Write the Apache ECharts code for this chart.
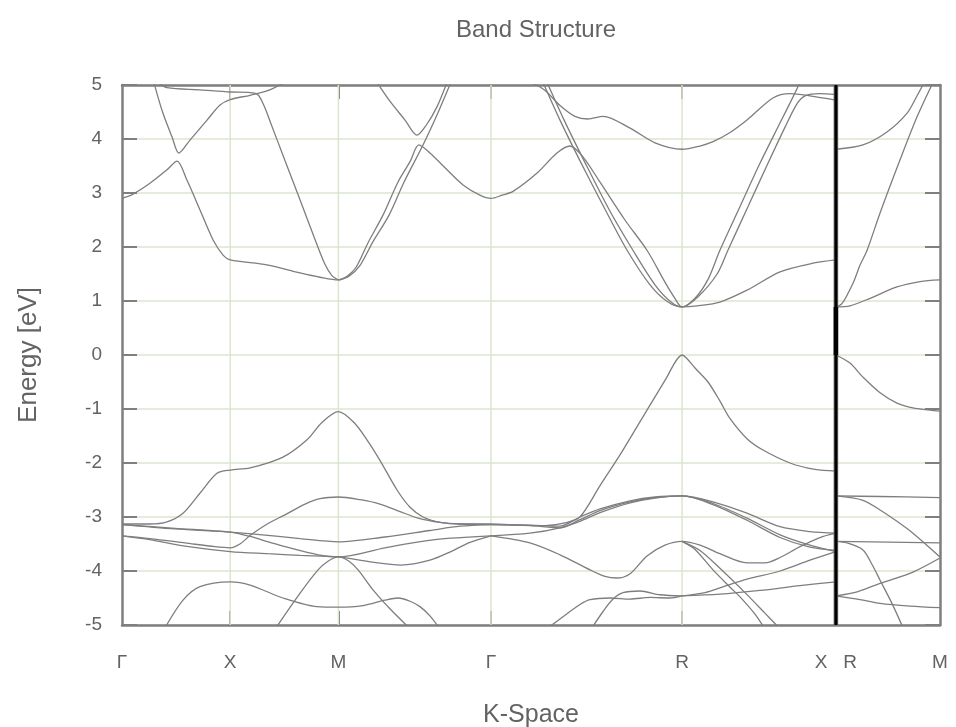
<!DOCTYPE html>
<html>
<head>
<meta charset="utf-8">
<script src="https://cdn.jsdelivr.net/npm/echarts@6.0.0/dist/echarts.min.js"></script>
<style>html,body{margin:0;padding:0;background:#fff}#c{width:956px;height:727px}</style>
</head>
<body>
<div id="c"></div>
<script>
// high-symmetry points along the k-path
const kPos = [0, 0.5, 1.0, 1.705, 2.588, 3.299, 3.78];
const kNames = ['Γ', 'X', 'M', 'Γ', 'R', 'X   R', 'M'];
const kInner = [0.5, 1.0, 1.705, 2.588];
const breakK = 3.299;
const gapEdges = [0.0, 0.89];
const eMin = -5, eMax = 5, eStep = 1;

// bands: [k, energy (eV)]
const b1 = [[0,2.90],[0.051,2.98],[0.129,3.18],[0.208,3.43],[0.254,3.59],[0.300,3.24],[0.360,2.69],[0.421,2.13],[0.467,1.85],[0.5,1.76],[0.670,1.67],[0.823,1.52],[0.915,1.44],[1.0,1.39],[1.040,1.46],[1.081,1.62],[1.137,2.08],[1.206,2.59],[1.275,3.20],[1.331,3.58],[1.372,3.89],[1.423,3.74],[1.502,3.43],[1.576,3.15],[1.654,2.96],[1.705,2.90],[1.756,2.96],[1.807,3.03],[1.918,3.37],[2.010,3.74],[2.070,3.87],[2.130,3.67],[2.209,3.20],[2.324,2.50],[2.426,1.94],[2.509,1.35],[2.555,1.05],[2.588,0.89],[2.657,0.91],[2.763,0.98],[2.888,1.20],[3.041,1.54],[3.193,1.70],[3.299,1.76]];
const b2 = [[1.0,1.39],[1.049,1.46],[1.100,1.66],[1.160,2.10],[1.234,2.59],[1.303,3.20],[1.391,3.89],[1.456,4.45],[1.520,5.05]];
const bV = [[1.178,5.05],[1.238,4.70],[1.308,4.35],[1.363,4.07],[1.405,4.25],[1.456,4.60],[1.502,5.05]];
const b3 = [[0.139,5.20],[0.152,4.98],[0.189,4.48],[0.231,4.04],[0.263,3.74],[0.314,3.98],[0.393,4.35],[0.453,4.63],[0.5,4.73],[0.592,4.81],[0.670,4.89],[0.739,5.02],[0.76,5.08]];
const b4 = [[0.166,5.05],[0.208,4.95],[0.360,4.91],[0.5,4.87],[0.592,4.86],[0.628,4.82],[0.656,4.62],[0.684,4.33],[0.753,3.60],[0.823,2.87],[0.892,2.14],[0.938,1.68],[0.970,1.47],[1.0,1.39]];
const b5 = [[1.890,5.05],[1.955,4.90],[2.024,4.62],[2.093,4.42],[2.153,4.37],[2.223,4.42],[2.348,4.20],[2.463,3.93],[2.588,3.81],[2.671,3.87],[2.731,3.95],[2.810,4.12],[2.888,4.35],[3.008,4.76],[3.087,4.84],[3.179,4.80],[3.299,4.72]];
const b6 = [[1.945,5.05],[2.024,4.35],[2.116,3.60],[2.232,2.70],[2.334,1.94],[2.440,1.30],[2.523,0.98],[2.588,0.89],[2.648,1.05],[2.708,1.40],[2.763,1.94],[2.856,2.75],[2.948,3.55],[3.041,4.30],[3.101,4.78],[3.133,5.05]];
const b7 = [[1.964,5.05],[2.043,4.35],[2.135,3.60],[2.250,2.70],[2.361,1.94],[2.463,1.30],[2.537,0.98],[2.588,0.89],[2.662,1.08],[2.750,1.50],[2.800,1.94],[2.893,2.75],[2.985,3.55],[3.064,4.22],[3.119,4.65],[3.156,4.80],[3.225,4.84],[3.299,4.82]];
const d1 = [[0,-3.13],[0.129,-3.13],[0.208,-3.09],[0.282,-2.93],[0.360,-2.56],[0.439,-2.19],[0.5,-2.13],[0.592,-2.09],[0.744,-1.89],[0.855,-1.57],[0.924,-1.25],[1.0,-1.05],[1.072,-1.25],[1.132,-1.57],[1.192,-1.95],[1.271,-2.50],[1.331,-2.82],[1.391,-3.00],[1.470,-3.10],[1.562,-3.13],[1.705,-3.13],[1.839,-3.15],[1.955,-3.16],[2.047,-3.11],[2.116,-3.00],[2.209,-2.42],[2.315,-1.76],[2.426,-1.02],[2.518,-0.41],[2.546,-0.20],[2.569,-0.06],[2.588,0.0],[2.607,-0.05],[2.648,-0.24],[2.708,-0.50],[2.764,-0.86],[2.810,-1.18],[2.888,-1.55],[2.962,-1.76],[3.087,-2.00],[3.202,-2.12],[3.299,-2.15]];
const f1 = [[0,-3.14],[0.245,-3.22],[0.5,-3.28],[0.624,-3.32],[0.823,-3.40],[1.0,-3.46],[1.215,-3.37],[1.423,-3.25],[1.562,-3.17],[1.705,-3.14]];
const f2 = [[0,-3.14],[0.245,-3.21],[0.5,-3.28],[0.592,-3.36],[0.684,-3.47],[0.753,-3.55],[0.906,-3.70],[1.0,-3.74],[1.215,-3.57],[1.446,-3.42],[1.705,-3.35]];
const g1 = [[0,-3.35],[0.129,-3.40],[0.291,-3.48],[0.430,-3.55],[0.5,-3.57],[0.545,-3.50],[0.596,-3.33],[0.675,-3.12],[0.753,-2.96],[0.846,-2.76],[0.915,-2.66],[1.0,-2.63],[1.100,-2.68],[1.192,-2.76],[1.285,-2.90],[1.368,-3.02],[1.470,-3.10],[1.562,-3.13],[1.705,-3.14]];
const g2 = [[0,-3.35],[0.129,-3.42],[0.291,-3.54],[0.5,-3.64],[0.675,-3.68],[0.823,-3.71],[1.0,-3.74],[1.146,-3.83],[1.289,-3.89],[1.423,-3.80],[1.520,-3.64],[1.608,-3.47],[1.705,-3.35]];
const e1 = [[0.712,-5.05],[0.823,-4.41],[0.906,-3.98],[0.952,-3.82],[1.0,-3.74],[1.049,-3.82],[1.091,-3.98],[1.160,-4.35],[1.238,-4.70],[1.326,-5.05]];
const e2 = [[0.199,-5.05],[0.282,-4.54],[0.360,-4.29],[0.5,-4.20],[0.592,-4.26],[0.744,-4.50],[0.901,-4.66],[1.0,-4.67],[1.114,-4.64],[1.215,-4.54],[1.275,-4.50],[1.331,-4.56],[1.377,-4.66],[1.423,-4.83],[1.465,-5.05]];
const h1 = [[1.705,-3.14],[1.885,-3.16],[2.024,-3.20],[2.116,-3.05],[2.209,-2.88],[2.348,-2.72],[2.463,-2.64],[2.588,-2.61],[2.731,-2.75],[2.888,-3.02],[3.041,-3.33],[3.179,-3.52],[3.299,-3.64]];
const h2 = [[1.705,-3.14],[1.885,-3.15],[2.024,-3.17],[2.116,-3.00],[2.209,-2.85],[2.348,-2.70],[2.463,-2.63],[2.588,-2.61],[2.731,-2.77],[2.888,-3.06],[3.041,-3.38],[3.179,-3.56],[3.299,-3.62]];
const h3 = [[1.705,-3.35],[1.885,-3.48],[2.024,-3.70],[2.163,-3.98],[2.232,-4.10],[2.287,-4.13],[2.348,-4.05],[2.426,-3.72],[2.509,-3.52],[2.588,-3.45],[2.671,-3.52],[2.763,-3.68],[2.888,-3.85],[2.971,-3.85],[3.041,-3.75],[3.133,-3.55],[3.225,-3.38],[3.299,-3.30]];
const h4 = [[1.705,-3.35],[1.885,-3.30],[2.024,-3.20],[2.116,-3.08],[2.209,-2.92],[2.348,-2.74],[2.463,-2.65],[2.588,-2.61],[2.731,-2.72],[2.888,-2.93],[3.041,-3.18],[3.179,-3.27],[3.299,-3.30]];
const k1 = [[2.588,-3.45],[2.648,-3.60],[2.731,-3.98],[2.810,-4.30],[2.856,-4.48],[2.925,-4.80],[2.967,-5.05]];
const k2 = [[2.588,-3.45],[2.671,-3.62],[2.763,-3.95],[2.879,-4.40],[2.971,-4.78],[3.036,-5.05]];
const m1 = [[1.969,-5.05],[2.047,-4.82],[2.116,-4.62],[2.163,-4.53],[2.255,-4.50],[2.348,-4.52],[2.440,-4.49],[2.532,-4.50],[2.588,-4.46]];
const m2 = [[2.172,-5.05],[2.223,-4.75],[2.269,-4.52],[2.315,-4.40],[2.394,-4.37],[2.486,-4.44],[2.588,-4.46]];
const n1 = [[2.588,-4.46],[2.763,-4.43],[2.948,-4.36],[3.133,-4.27],[3.299,-4.20]];
const n2 = [[2.588,-4.46],[2.694,-4.40],[2.786,-4.28],[2.888,-4.15],[3.041,-4.00],[3.179,-3.80],[3.299,-3.64]];
// R - M panel
const p1 = [[3.299,3.81],[3.424,3.89],[3.535,4.13],[3.628,4.48],[3.674,4.80],[3.710,5.07]];
const p2 = [[3.299,0.89],[3.327,0.95],[3.378,1.33],[3.410,1.66],[3.443,1.94],[3.503,2.63],[3.595,3.61],[3.674,4.41],[3.748,5.05]];
const p3 = [[3.299,0.89],[3.364,0.91],[3.457,1.05],[3.581,1.26],[3.688,1.36],[3.78,1.39]];
const p4 = [[3.299,0.0],[3.364,-0.15],[3.424,-0.41],[3.503,-0.70],[3.581,-0.89],[3.655,-0.98],[3.734,-1.02],[3.78,-1.04]];
const p5 = [[3.299,-2.61],[3.503,-2.62],[3.78,-2.64]];
const p6 = [[3.299,-2.61],[3.424,-2.69],[3.503,-2.87],[3.581,-3.08],[3.655,-3.30],[3.78,-3.74]];
const p7 = [[3.299,-3.45],[3.78,-3.48]];
const p8 = [[3.299,-3.45],[3.350,-3.48],[3.424,-3.61],[3.466,-3.88],[3.503,-4.17],[3.558,-4.60],[3.609,-5.05]];
const p9 = [[3.299,-4.46],[3.401,-4.38],[3.503,-4.23],[3.655,-4.02],[3.78,-3.76]];
const p10 = [[3.299,-4.46],[3.410,-4.53],[3.503,-4.60],[3.641,-4.65],[3.78,-4.68]];

const bands = [b1,b2,bV,b3,b4,b5,b6,b7,d1,f1,f2,g1,g2,e1,e2,h1,h2,h3,h4,k1,k2,m1,m2,n1,n2,p1,p2,p3,p4,p5,p6,p7,p8,p9,p10];

const axisGray = '#7f7f7f';
const textGray = '#636363';
const gridGreen = '#dbe6cf';
const font = 'Liberation Sans, Arial, sans-serif';

const series = [];
kInner.forEach(k => series.push({
  type: 'line', data: [[k, eMin], [k, eMax]], showSymbol: false, silent: true, z: 1,
  lineStyle: { color: gridGreen, width: 1.5 }
}));
bands.forEach(b => series.push({
  type: 'line', data: b, showSymbol: false, smooth: 0.3, silent: true, z: 3, clip: true,
  lineStyle: { color: '#7e7e7e', width: 1.3 }
}));
series.push({
  type: 'line', data: [[breakK, eMin], [breakK, eMax]], showSymbol: false, silent: true, z: 4,
  lineStyle: { color: '#555', width: 4.5 }
});
series.push({
  type: 'line', data: [[breakK, eMin], [breakK, eMax]], showSymbol: false, silent: true, z: 5,
  lineStyle: { color: '#000', width: 2.5 }
});
series.push({
  type: 'line', data: [[breakK, gapEdges[0]], [breakK, gapEdges[1]]], showSymbol: false, silent: true, z: 6,
  lineStyle: { color: '#000', width: 4.5 }
});

function nameFor(v) {
  let best = 0;
  kPos.forEach((k, i) => { if (Math.abs(k - v) < Math.abs(kPos[best] - v)) best = i; });
  return kNames[best];
}

const chart = echarts.init(document.getElementById('c'), null, { renderer: 'canvas' });
chart.setOption({
  animation: false,
  backgroundColor: '#fff',
  textStyle: { fontFamily: font },
  title: {
    text: 'Band Structure', left: 531, top: 13, textAlign: 'center',
    textStyle: { fontSize: 24, fontWeight: 'normal', color: textGray, fontFamily: font }
  },
  grid: { left: 122, right: 16, top: 85, bottom: 102, containLabel: false, outerBoundsMode: 'none' },
  xAxis: [{
    type: 'value', min: kPos[0], max: kPos[kPos.length - 1], position: 'bottom',
    name: 'K-Space', nameLocation: 'middle', nameGap: 78,
    nameTextStyle: { fontSize: 25, color: textGray, fontFamily: font },
    axisLine: { show: true, onZero: false, lineStyle: { color: axisGray, width: 2.5 } },
    axisTick: { show: true, inside: true, length: 14, customValues: kInner, lineStyle: { color: axisGray, width: 2 } },
    axisLabel: { show: true, customValues: kPos, formatter: v => nameFor(v), margin: 28, fontSize: 19, color: textGray, fontFamily: font },
    splitLine: { show: false }
  }, {
    type: 'value', min: kPos[0], max: kPos[kPos.length - 1], position: 'top',
    axisLine: { show: true, onZero: false, lineStyle: { color: axisGray, width: 2.5 } },
    axisTick: { show: true, inside: true, length: 14, customValues: kInner, lineStyle: { color: axisGray, width: 2 } },
    axisLabel: { show: false },
    splitLine: { show: false }
  }],
  yAxis: [{
    type: 'value', min: eMin, max: eMax, interval: eStep, position: 'left',
    name: 'Energy [eV]', nameLocation: 'middle', nameGap: 80, nameRotate: 90,
    nameTextStyle: { fontSize: 26, color: textGray, fontFamily: font },
    axisLine: { show: true, onZero: false, lineStyle: { color: axisGray, width: 2.5 } },
    axisTick: { show: true, inside: true, length: 15, lineStyle: { color: axisGray, width: 2 } },
    axisLabel: { margin: 20, fontSize: 19, color: textGray, fontFamily: font },
    splitLine: { show: true, lineStyle: { color: gridGreen, width: 1.5 } }
  }, {
    type: 'value', min: eMin, max: eMax, interval: eStep, position: 'right',
    axisLine: { show: true, onZero: false, lineStyle: { color: axisGray, width: 2.5 } },
    axisTick: { show: true, inside: true, length: 15, lineStyle: { color: axisGray, width: 2 } },
    axisLabel: { show: false },
    splitLine: { show: false }
  }],
  series: series
});
</script>
</body>
</html>
